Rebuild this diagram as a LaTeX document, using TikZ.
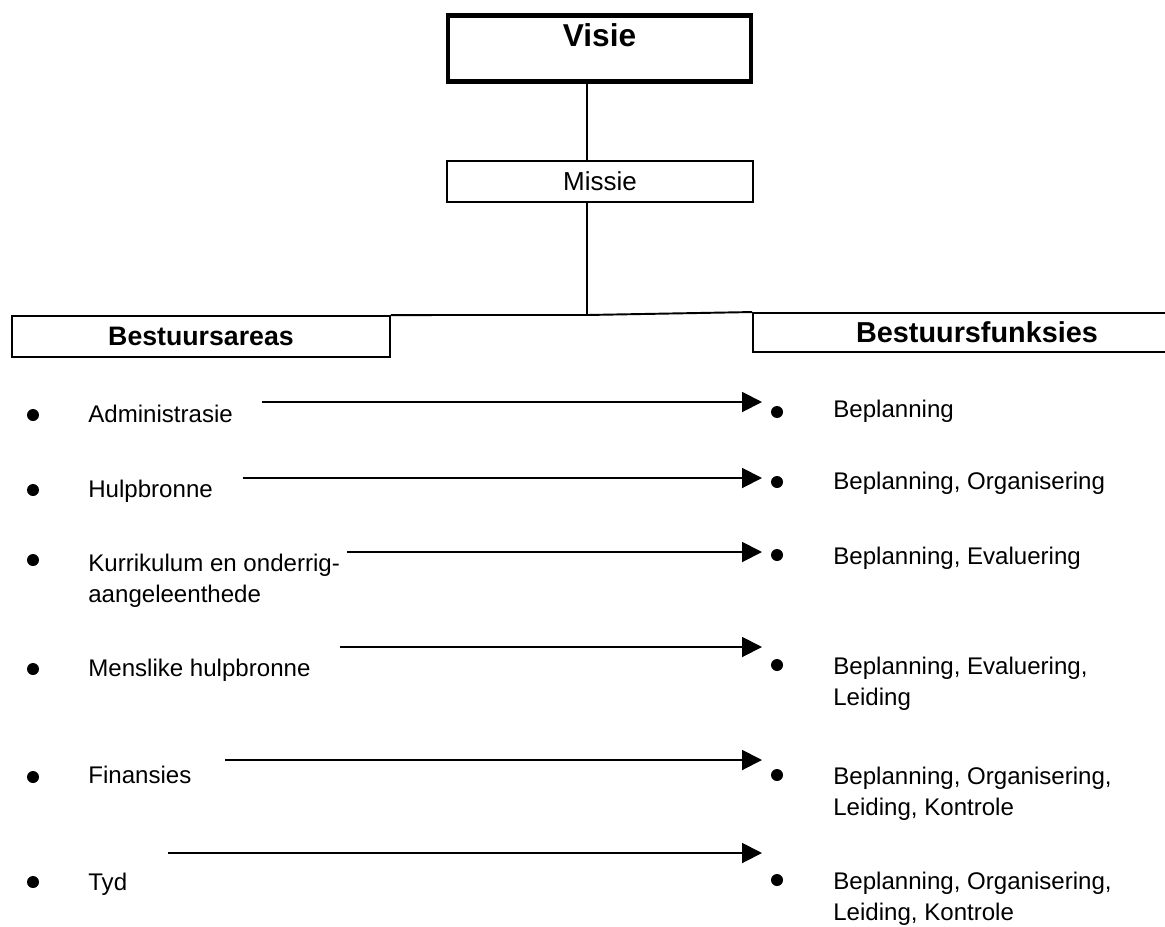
\documentclass[tikz,border=0pt]{standalone}
\usepackage{fontspec}
\setmainfont{Liberation Sans}
\usetikzlibrary{positioning, arrows.meta}

\begin{document}
\begin{tikzpicture}[
            x=0.02cm, y=-0.02cm,
            box/.style={
                    draw,
                    line width=1.1pt,
                    inner sep=0pt,
                    align=center
                },
            line/.style={
                    line width=1.1pt
                },
            arrow/.style={
                    -{Triangle[length=0.4cm, width=0.4cm]},
                    line width=1.1pt
                },
            dot/.style={
                    circle,
                    fill,
                    inner sep=0pt,
                    minimum size=0.24cm
                },
            item/.style={
                    anchor=north west,
                    inner sep=0pt,
                    align=left,
                    font=\fontsize{13.7}{17.6}\selectfont
                }
        ]

        \clip (0,0) rectangle (1165,926);


        \node[box, line width=2.6pt, anchor=north, minimum width=6.06cm,
            text height=0.63cm, text depth=0.69cm,
            font=\fontsize{18}{20}\selectfont\bfseries] (visie) at (599.5,13)
        {Visie};


        \node[box, minimum width=6.12cm, minimum height=0.82cm,
            font=\fontsize{14.8}{16}\selectfont] (missie) at (600,181.5)
        {Missie};


        \node[box, minimum width=7.56cm, minimum height=0.82cm,
            font=\fontsize{15.2}{17}\selectfont\bfseries] (areas) at (201,336.5)
        {Bestuursareas};


        \node[box, minimum width=8.96cm, minimum height=0.78cm,
            font=\fontsize{16.4}{18}\selectfont\bfseries] (funksies) at (977,332.5)
        {Bestuursfunksies};


        \coordinate (hub) at (587,315);

        \draw[line](visie.south -| hub)--(missie.north -| hub);
        \draw[line](missie.south -| hub)--(hub);
        \draw[line](areas.north east)--(hub)--(funksies.north west);


        % bestuursareas
        \node[dot] (a1) at (33,415) {};
        \node[dot] (a2) at (33,490) {};
        \node[dot] (a3) at (33,560) {};
        \node[dot] (a4) at (33,669) {};
        \node[dot] (a5) at (33,777) {};
        \node[dot] (a6) at (33,882) {};

        \node[item] (l1) at (88,404.5) {Administrasie};
        \node[item] (l2) at (88,479.5) {Hulpbronne};
        \node[item] (l3) at (88,553.5) {Kurrikulum en onderrig-\\aangeleenthede};
        \node[item] (l4) at (88,658.5) {Menslike hulpbronne};
        \node[item] (l5) at (88,765.5) {Finansies};
        \node[item] (l6) at (88,872.5) {Tyd};


        % bestuursfunksies
        \node[dot] (b1) at (777,412) {};
        \node[dot] (b2) at (777,482) {};
        \node[dot] (b3) at (777,555) {};
        \node[dot] (b4) at (777,665) {};
        \node[dot] (b5) at (777,775) {};
        \node[dot] (b6) at (777,880) {};

        \node[item] (r1) at (833,399.5) {Beplanning};
        \node[item] (r2) at (833,471.5) {Beplanning, Organisering};
        \node[item] (r3) at (833,546.5) {Beplanning, Evaluering};
        \node[item] (r4) at (833,656.5) {Beplanning, Evaluering,\\Leiding};
        \node[item] (r5) at (833,766.5) {Beplanning, Organisering,\\Leiding, Kontrole};
        \node[item] (r6) at (833,871.5) {Beplanning, Organisering,\\Leiding, Kontrole};


        % pyle
        \coordinate (s1) at (262,402);
        \coordinate (s2) at (243,478);
        \coordinate (s3) at (347,552);
        \coordinate (s4) at (340,647);
        \coordinate (s5) at (225,760);
        \coordinate (s6) at (168,853);

        \draw[arrow](s1)--(s1 -| 762,0);
        \draw[arrow](s2)--(s2 -| 762,0);
        \draw[arrow](s3)--(s3 -| 762,0);
        \draw[arrow](s4)--(s4 -| 762,0);
        \draw[arrow](s5)--(s5 -| 762,0);
        \draw[arrow](s6)--(s6 -| 762,0);


    \end{tikzpicture}
\end{document}
